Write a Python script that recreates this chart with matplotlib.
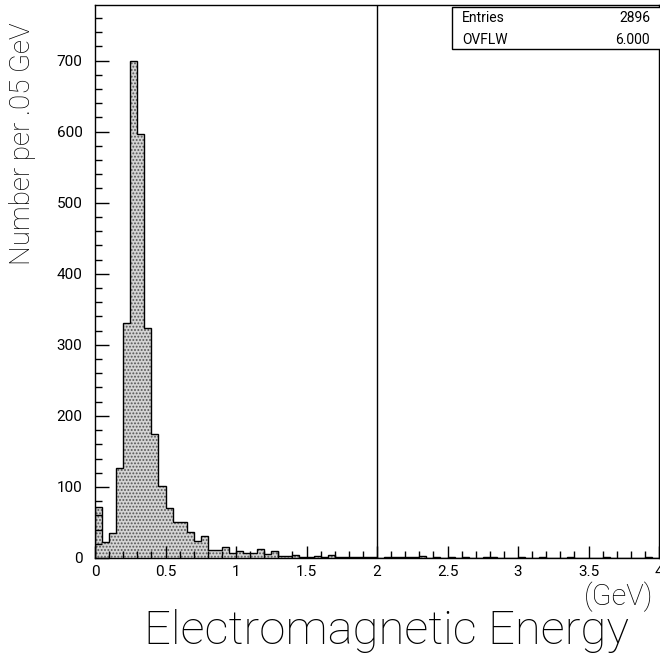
import numpy as np
import matplotlib.pyplot as plt
from matplotlib.ticker import MultipleLocator

# Electromagnetic energy spectrum, 0.05 GeV bins from 0 to 4 GeV
bin_width = 0.05
edges = np.arange(0, 4.0 + bin_width / 2, bin_width)

counts = np.array([
    72, 22, 35, 127, 330, 700, 597, 323, 174, 102,   # 0.00 - 0.50
    70, 50, 51, 37, 24, 31, 11, 11, 15, 7,           # 0.50 - 1.00
    10, 7, 7, 12, 6, 10, 3, 3, 4, 2,                 # 1.00 - 1.50
    2, 3, 2, 4, 2, 1, 1, 1, 2, 2,                    # 1.50 - 2.00
    0, 1, 1, 2, 2, 1, 3, 0, 1, 0,                    # 2.00 - 2.50
    1, 0, 1, 0, 0, 1, 1, 0, 0, 0,                    # 2.50 - 3.00
    1, 0, 0, 1, 0, 0, 0, 1, 0, 0,                    # 3.00 - 3.50
    0, 0, 1, 0, 0, 0, 0, 0, 1, 0,                    # 3.50 - 4.00
])

stat_names = ["Entries", "OVFLW"]
stat_values = ["2896", "6.000"]
cut_energy = 2.0

plt.rcParams['font.family'] = ['Roboto', 'DejaVu Sans']
plt.rcParams['hatch.linewidth'] = 0.9

fig = plt.figure(figsize=(6.6, 6.57), dpi=100)
ax = fig.add_axes([0.144, 0.1507, 0.8545, 0.8415])

# stippled histogram body, then the outline on top
x_steps = np.repeat(edges, 2)[1:-1]
y_steps = np.repeat(counts, 2)
ax.fill_between(x_steps, 0, y_steps, facecolor='#d4d4d4', edgecolor='#555555',
                hatch='.....', linewidth=0)
ax.stairs(counts, edges, color='black', linewidth=1.0)

ax.axvline(cut_energy, color='black', linewidth=1.0)

ax.set_xlim(0, 4)
ax.set_ylim(0, 778)

ax.yaxis.set_major_locator(MultipleLocator(100))
ax.yaxis.set_minor_locator(MultipleLocator(20))
ax.xaxis.set_minor_locator(MultipleLocator(0.1))
ax.set_xticks(np.arange(0, 4.01, 0.5))
ax.set_xticklabels(['0', '0.5', '1', '1.5', '2', '2.5', '3', '3.5', '4'])

ax.tick_params(axis='both', which='both', direction='in', labelsize=11,
               width=1.0, colors='black')
ax.tick_params(axis='y', which='major', length=10, pad=9)
ax.tick_params(axis='y', which='minor', length=5)
ax.tick_params(axis='x', which='major', length=9, pad=5)
ax.tick_params(axis='x', which='minor', length=5)

for side in ax.spines.values():
    side.set_linewidth(1.0)

ax.set_ylabel("Number per .05 GeV", fontsize=20, fontweight='light',
              color='black')
ax.yaxis.set_label_coords(-0.105, 0.75)

fig.text(0.99, 0.091, "(GeV)", fontsize=21, fontweight='light',
         color='black', ha='right', va='center')
fig.text(0.585, 0.04, "Electromagnetic Energy", fontsize=34,
         fontweight='light', color='black', ha='center', va='center')

# statistics box in the upper right corner
box = plt.Rectangle((0.6845, 0.925), 0.32, 0.064, transform=fig.transFigure,
                    facecolor='white', edgecolor='black', linewidth=1.0,
                    zorder=5)
fig.add_artist(box)
for i, (name, val) in enumerate(zip(stat_names, stat_values)):
    y = 0.972 - i * 0.033
    fig.text(0.70, y, name, fontsize=10, ha='left', va='center', zorder=6)
    fig.text(0.985, y, val, fontsize=10, ha='right', va='center', zorder=6)

fig.savefig("out.png", dpi=100)
